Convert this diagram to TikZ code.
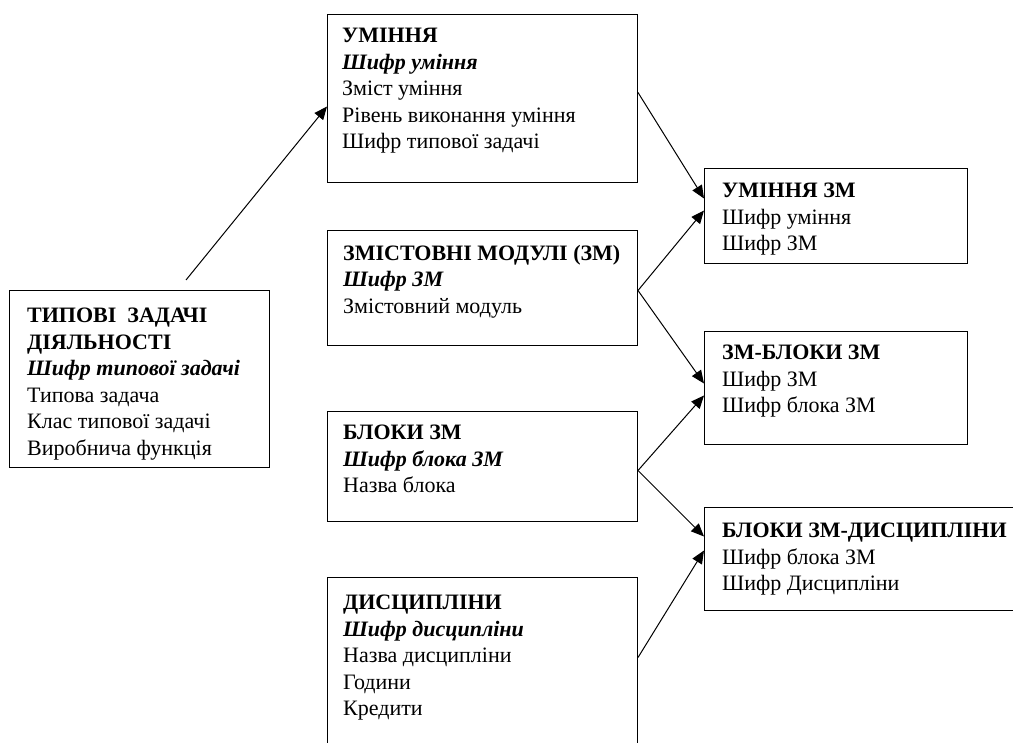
\documentclass[tikz,border=0pt]{standalone}
\usepackage{fontspec}
\setmainfont{Liberation Serif}
\usetikzlibrary{arrows.meta}
\tikzset{
  box/.style={draw,line width=1pt,anchor=north west,inner sep=0pt},
  txt/.style={anchor=north west,inner sep=0pt,align=left,font=\fontsize{22}{26.5}\selectfont},
  arr/.style={line width=1pt,-{Triangle[length=13pt,width=11pt]}}
}
\begin{document}
\begin{tikzpicture}[x=1pt,y=-1pt]
\useasboundingbox (0,0) rectangle (1013,743);
\clip (0,0) rectangle (1013,743);
\node[box,minimum width=260,minimum height=177] (tipovi) at (9,290) {};
\node[box,minimum width=310,minimum height=168] (umin) at (327,14) {};
\node[box,minimum width=310,minimum height=115] (zmist) at (327,230) {};
\node[box,minimum width=310,minimum height=110] (bloky) at (327,411) {};
\node[box,minimum width=310,minimum height=183] (dysc) at (327,577) {};
\node[box,minimum width=263,minimum height=95] (uminzm) at (704,168) {};
\node[box,minimum width=263,minimum height=113] (zmblok) at (704,331) {};
\node[box,minimum width=326,minimum height=103] (blokdysc) at (704,507) {};
\node[txt] (tipovitxt) at ([xshift=18pt,yshift=-18pt]tipovi.north west) {\textbf{ТИПОВІ~ ЗАДАЧІ}\\ \textbf{ДІЯЛЬНОСТІ}\\ \textbf{\textit{Шифр типової задачі}}\\ Типова задача\\ Клас типової задачі\\ Виробнича функція};
\node[txt] (umintxt) at ([xshift=15pt,yshift=-14pt]umin.north west) {\textbf{УМІННЯ}\\ \textbf{\textit{Шифр уміння}}\\ Зміст уміння\\ Рівень виконання уміння\\ Шифр типової задачі};
\node[txt] (zmisttxt) at ([xshift=16pt,yshift=-15pt]zmist.north west) {\textbf{ЗМІСТОВНІ МОДУЛІ (ЗМ)}\\ \textbf{\textit{Шифр ЗМ}}\\ Змістовний модуль};
\node[txt] (blokytxt) at ([xshift=16pt,yshift=-14pt]bloky.north west) {\textbf{БЛОКИ ЗМ}\\ \textbf{\textit{Шифр блока ЗМ}}\\ Назва блока};
\node[txt] (dysctxt) at ([xshift=16pt,yshift=-18pt]dysc.north west) {\textbf{ДИСЦИПЛІНИ}\\ \textbf{\textit{Шифр дисципліни}}\\ Назва дисципліни\\ Години\\ Кредити};
\node[txt] (uminzmtxt) at ([xshift=18pt,yshift=-15pt]uminzm.north west) {\textbf{УМІННЯ ЗМ}\\ Шифр уміння\\ Шифр ЗМ};
\node[txt] (zmbloktxt) at ([xshift=18pt,yshift=-14pt]zmblok.north west) {\textbf{ЗМ-БЛОКИ ЗМ}\\ Шифр ЗМ\\ Шифр блока ЗМ};
\node[txt] (blokdysctxt) at ([xshift=18pt,yshift=-16pt]blokdysc.north west) {\textbf{БЛОКИ ЗМ-ДИСЦИПЛІНИ}\\ Шифр блока ЗМ\\ Шифр Дисципліни};
\coordinate (tipstart) at (186,280);
\draw[arr] (tipstart) -- ([yshift=-8pt]umin.west);
\draw[arr] ([yshift=6pt]umin.east) -- ([yshift=17.5pt]uminzm.west);
\draw[arr] ([yshift=-2.5pt]zmist.east) -- ([yshift=5.5pt]uminzm.west);
\draw[arr] ([yshift=-2.5pt]zmist.east) -- ([yshift=4.5pt]zmblok.west);
\draw[arr] ([yshift=-4pt]bloky.east) -- ([yshift=-7.5pt]zmblok.west);
\draw[arr] ([yshift=-4pt]bloky.east) -- ([yshift=22.5pt]blokdysc.west);
\draw[arr] ([yshift=11.5pt]dysc.east) -- ([yshift=8.5pt]blokdysc.west);
\end{tikzpicture}
\end{document}
